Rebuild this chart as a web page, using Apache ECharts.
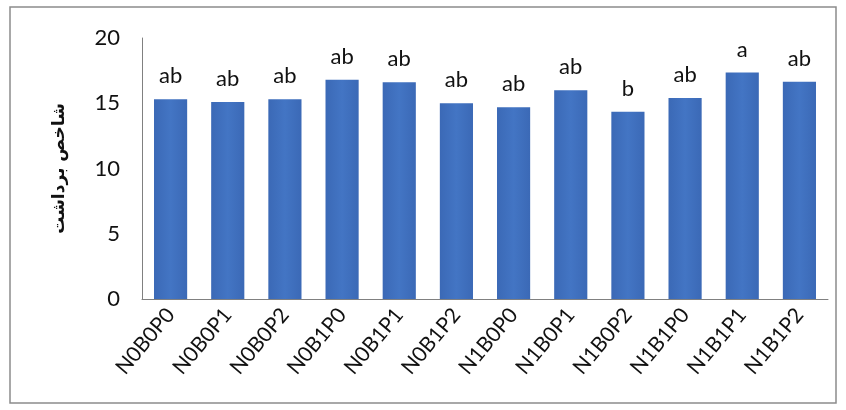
<!DOCTYPE html>
<html>
<head>
<meta charset="utf-8">
<script src="https://cdn.jsdelivr.net/npm/echarts@6/dist/echarts.min.js"></script>
<style>
  html, body { margin: 0; padding: 0; background: #fff; }
  #chart { width: 846px; height: 410px; }
</style>
</head>
<body>
<div id="chart"></div>
<script>
// treatments along the x axis
const categories = ["N0B0P0", "N0B0P1", "N0B0P2", "N0B1P0", "N0B1P1", "N0B1P2",
  "N1B0P0", "N1B0P1", "N1B0P2", "N1B1P0", "N1B1P1", "N1B1P2"]
// harvest index values
const values = [15.3, 15.1, 15.3, 16.8, 16.6, 15.0, 14.7, 16.0, 14.35, 15.4, 17.35, 16.65]
// significance letters above each bar
const letters = ["ab", "ab", "ab", "ab", "ab", "ab", "ab", "ab", "b", "ab", "a", "ab"]
const yTicks = [0, 5, 10, 15, 20]
const yTitle = "شاخص برداشت"

const chart = echarts.init(document.getElementById("chart"))

const option = {
  backgroundColor: "#fff",
  animation: false,
  graphic: [
    {
      type: "rect",
      shape: { x: 10, y: 7, width: 826, height: 396 },
      style: { fill: "none", stroke: "#8c8c8c", lineWidth: 1.5 },
    },
  ],
  grid: {
    left: 142,
    right: 18,
    top: 38,
    bottom: 111,
    outerBoundsMode: "none",
  },
  xAxis: {
    type: "category",
    data: categories,
    axisLine: { lineStyle: { color: "#808080", width: 1 } },
    axisTick: { show: false },
    axisLabel: {
      rotate: 50,
      color: "#111",
      fontSize: 21,
      fontFamily: "Lato",
      margin: 12,
      interval: 0,
      hideOverlap: false,
    },
  },
  yAxis: {
    type: "value",
    min: yTicks[0],
    max: yTicks[yTicks.length - 1],
    interval: 5,
    name: yTitle,
    nameLocation: "middle",
    nameRotate: 90,
    nameGap: 74,
    nameTextStyle: {
      color: "#111",
      fontSize: 17,
      fontWeight: "bold",
      fontFamily: "DejaVu Sans",
    },
    axisLine: { show: true, lineStyle: { color: "#808080", width: 1 } },
    axisTick: { show: false },
    splitLine: { show: false },
    axisLabel: {
      color: "#111",
      fontSize: 22,
      fontFamily: "Lato",
      margin: 22,
    },
  },
  series: [
    {
      type: "bar",
      data: values,
      barWidth: "58%",
      itemStyle: {
        color: new echarts.graphic.LinearGradient(0, 0, 1, 0, [
          { offset: 0, color: "#3b69b6" },
          { offset: 0.5, color: "#4375c4" },
          { offset: 1, color: "#3b69b6" },
        ]),
      },
      label: {
        show: true,
        position: "top",
        distance: 12,
        color: "#111",
        fontSize: 22,
        fontFamily: "Lato",
        formatter: (p) => letters[p.dataIndex],
      },
    },
  ],
}

chart.setOption(option)
</script>
</body>
</html>
